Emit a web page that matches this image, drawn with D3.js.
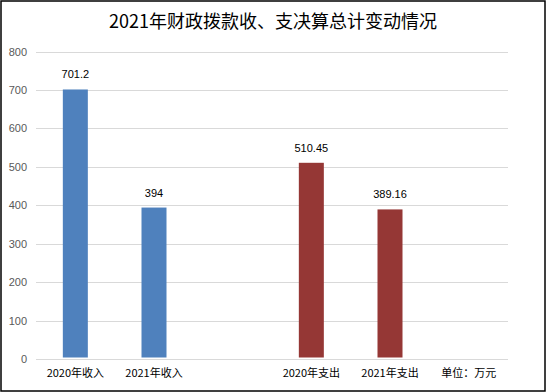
<!DOCTYPE html>
<html>
<head>
<meta charset="utf-8">
<script src="https://cdn.jsdelivr.net/npm/d3@7"></script>
<style>
  body { margin: 0; background: #fff; }
  svg text { font-family: "Liberation Sans", "Noto Sans CJK SC", sans-serif; }
</style>
</head>
<body>
<script>
var title = "2021年财政拨款收、支决算总计变动情况";
var categories = ["2020年收入", "2021年收入", "", "2020年支出", "2021年支出", "单位：万元"];
var values = [701.2, 394, null, 510.45, 389.16, null];
var labels = ["701.2", "394", "", "510.45", "389.16", ""];
var barColors = ["#4F81BD", "#4F81BD", null, "#953735", "#953735", null];
var yTicks = [0, 100, 200, 300, 400, 500, 600, 700, 800];

var width = 546, height = 392;
var margin = {left: 36, right: 38, top: 51.5, bottom: 33};

var svg = d3.select("body").append("svg").attr("width", width).attr("height", height);

svg.append("rect")
    .attr("x", 1).attr("y", 1)
    .attr("width", width - 2).attr("height", height - 2)
    .attr("fill", "#fff").attr("stroke", "#000").attr("stroke-width", 1.5);

svg.append("text")
    .attr("x", width / 2).attr("y", 28)
    .attr("text-anchor", "middle")
    .style("font-size", "18px")
    .style("font-family", "'Noto Sans CJK SC', sans-serif")
    .attr("fill", "#000")
    .text(title);

var x = d3.scaleBand().domain(d3.range(categories.length))
    .range([margin.left, width - margin.right]).paddingInner(0).paddingOuter(0);
var y = d3.scaleLinear().domain([0, 800]).range([height - margin.bottom, margin.top]);

// grid lines
svg.append("g").selectAll("line").data(yTicks).enter().append("line")
    .attr("x1", margin.left).attr("x2", width - margin.right)
    .attr("y1", function(d){ return Math.round(y(d)) + 0.5; })
    .attr("y2", function(d){ return Math.round(y(d)) + 0.5; })
    .attr("stroke", "#D9D9D9").attr("stroke-width", 1);

// y axis labels
var yAxis = d3.axisLeft(y).tickValues(yTicks).tickSize(0).tickPadding(9);
var gy = svg.append("g").attr("transform", "translate(" + margin.left + ",0)").call(yAxis);
gy.select(".domain").remove();
gy.selectAll("text").attr("fill", "#595959").style("font-size", "11px");

// x axis labels
var xAxis = d3.axisBottom(x).tickFormat(function(i){ return categories[i]; }).tickSize(0).tickPadding(10);
var gx = svg.append("g").attr("transform", "translate(0," + (height - margin.bottom) + ")").call(xAxis);
gx.select(".domain").remove();
gx.selectAll("text").attr("fill", "#000").style("font-size", "11px")
    .style("font-family", "'Noto Sans CJK SC', sans-serif");

var barW = 25;
var data = d3.range(categories.length).filter(function(i){ return values[i] != null; });

svg.append("g").selectAll("rect").data(data).enter().append("rect")
    .attr("x", function(i){ return x(i) + x.bandwidth() / 2 - barW / 2; })
    .attr("y", function(i){ return y(values[i]); })
    .attr("width", barW)
    .attr("height", function(i){ return y(0) - 1.5 - y(values[i]); })
    .attr("fill", function(i){ return barColors[i]; });

svg.append("g").selectAll("text").data(data).enter().append("text")
    .attr("x", function(i){ return x(i) + x.bandwidth() / 2; })
    .attr("y", function(i){ return y(values[i]) - 11; })
    .attr("text-anchor", "middle")
    .style("font-size", "11px")
    .attr("fill", "#000")
    .text(function(i){ return labels[i]; });
</script>
</body>
</html>
